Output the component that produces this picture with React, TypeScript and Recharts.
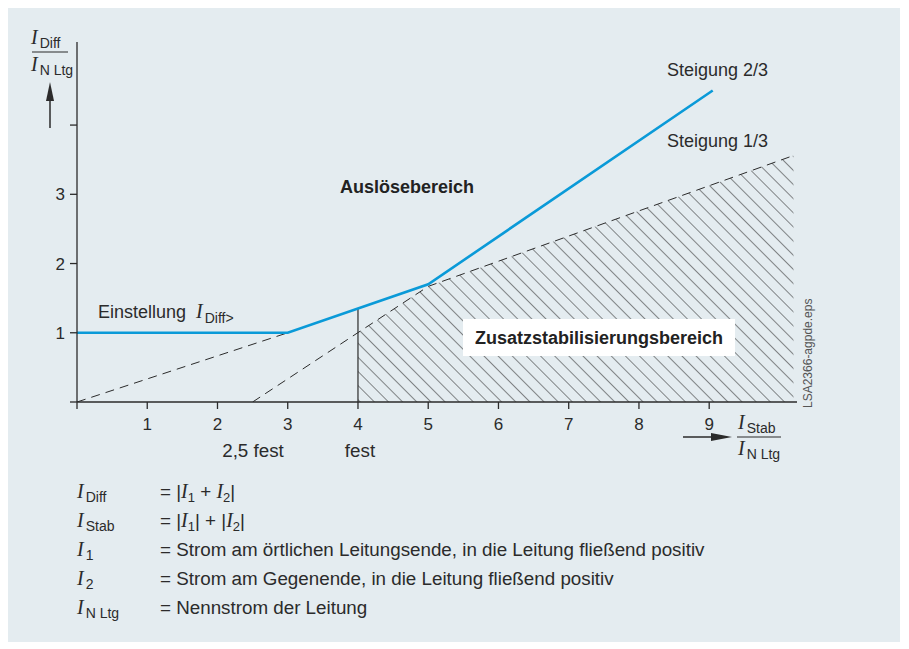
import { ComposedChart, Line, Area, XAxis, YAxis } from 'recharts'

// Auslösekennlinie (I_Stab / I_N Ltg -> I_Diff / I_N Ltg)
const tripX = [0, 3, 5, 9.05]
const tripY = [1, 1, 1.7, 4.5]

// gestrichelte Hilfslinien
const slopeFlatX = [0, 3]
const slopeFlatY = [0, 1]
const boundaryX = [2.5, 5, 10.2]
const boundaryY = [0, 1.67, 3.56]

// Zusatzstabilisierungsbereich
const hatchX = [4, 5, 10.2]
const hatchY = [1, 1.67, 3.56]

// senkrechte Linie bei "fest"
const festX = [4, 4]
const festY = [0, 1.35]

const xTicks = [0, 1, 2, 3, 4, 5, 6, 7, 8, 9]
const xTickLabels = ['', '1', '2', '3', '4', '5', '6', '7', '8', '9']
const yTicks = [0, 1, 2, 3, 4]
const yTickLabels = ['', '1', '2', '3', '']

const legendSubs = ['Diff', 'Stab', '1', '2', 'N Ltg']
const legendTexts = [
  '',
  '',
  '= Strom am örtlichen Leitungsende, in die Leitung fließend positiv',
  '= Strom am Gegenende, in die Leitung fließend positiv',
  '= Nennstrom der Leitung',
]

const zip = (xs: number[], ys: number[]) => xs.map((x, i) => ({ x, y: ys[i] }))

const SANS = '"Liberation Sans", Arial, sans-serif'
const SERIF = '"Liberation Serif", "Times New Roman", serif'
const INK = '#2b2b2b'
const BLUE = '#0a9ad8'
const BG = '#e4ecf0'
const FS = 18
const LFS = 18.8

function Cur({ x, y, sub, size = 20, subSize = 14 }: { x: number; y: number; sub: string; size?: number; subSize?: number }) {
  return (
    <text x={x} y={y} fill={INK}>
      <tspan fontFamily={SERIF} fontStyle="italic" fontSize={size}>I</tspan>
      <tspan fontFamily={SANS} fontSize={subSize} dx={2} dy={4}>{sub}</tspan>
    </text>
  )
}

function Overlay() {
  const rowY = [498, 527, 556, 585, 614]
  return (
    <svg
      width={892}
      height={634}
      viewBox="8 8 892 634"
      style={{ position: 'absolute', left: 0, top: 0, pointerEvents: 'none' }}
    >
      {/* y axis label */}
      <Cur x={31} y={44} sub="Diff" />
      <line x1={32} x2={68} y1={52} y2={52} stroke={INK} strokeWidth={1} />
      <Cur x={31} y={71} sub="N Ltg" />
      <line x1={50} x2={50} y1={128} y2={98} stroke={INK} strokeWidth={1.5} />
      <polygon points="50,82 46,101 54,101" fill={INK} />

      {/* x axis label */}
      <line x1={683} x2={715} y1={437} y2={437} stroke={INK} strokeWidth={1.5} />
      <polygon points="732,437 711,433 711,441" fill={INK} />
      <Cur x={738} y={429} sub="Stab" />
      <line x1={737} x2={781} y1={437} y2={437} stroke={INK} strokeWidth={1} />
      <Cur x={738} y={455} sub="N Ltg" />

      <text x={253} y={457} textAnchor="middle" fontFamily={SANS} fontSize={LFS} fill={INK}>2,5 fest</text>
      <text x={360} y={457} textAnchor="middle" fontFamily={SANS} fontSize={LFS} fill={INK}>fest</text>

      <text x={98} y={318} fontFamily={SANS} fontSize={FS} fill={INK}>Einstellung</text>
      <text x={196} y={318} fill={INK}>
        <tspan fontFamily={SERIF} fontStyle="italic" fontSize={20}>I</tspan>
        <tspan fontFamily={SANS} fontSize={14} dx={2} dy={5}>Diff&gt;</tspan>
      </text>

      <text x={340} y={193} fontFamily={SANS} fontSize={FS} fontWeight="bold" fill="#222">Auslösebereich</text>
      <text x={667} y={76} fontFamily={SANS} fontSize={FS} fill={INK}>Steigung 2/3</text>
      <text x={667} y={147} fontFamily={SANS} fontSize={FS} fill={INK}>Steigung 1/3</text>

      <rect x={463} y={319} width={272} height={37} fill="#ffffff" />
      <text x={599} y={344} textAnchor="middle" fontFamily={SANS} fontSize={FS} fontWeight="bold" fill="#222">
        Zusatzstabilisierungsbereich
      </text>

      <text
        x={812}
        y={408}
        transform="rotate(-90 812 408)"
        fontFamily={SANS}
        fontSize={12}
        fill="#555"
      >
        LSA2366-agpde.eps
      </text>

      {/* legend */}
      {legendSubs.map((s, i) => (
        <Cur key={s} x={77} y={rowY[i]} sub={s} />
      ))}
      <text x={160} y={rowY[0]} fill={INK} fontFamily={SANS} fontSize={LFS}>
        <tspan>= |</tspan>
        <tspan fontFamily={SERIF} fontStyle="italic" fontSize={20}>I</tspan>
        <tspan fontSize={13} dy={4}>1</tspan>
        <tspan dy={-4}> + </tspan>
        <tspan fontFamily={SERIF} fontStyle="italic" fontSize={20}>I</tspan>
        <tspan fontSize={13} dy={4}>2</tspan>
        <tspan dy={-4}>|</tspan>
      </text>
      <text x={160} y={rowY[1]} fill={INK} fontFamily={SANS} fontSize={LFS}>
        <tspan>= |</tspan>
        <tspan fontFamily={SERIF} fontStyle="italic" fontSize={20}>I</tspan>
        <tspan fontSize={13} dy={4}>1</tspan>
        <tspan dy={-4}>| + |</tspan>
        <tspan fontFamily={SERIF} fontStyle="italic" fontSize={20}>I</tspan>
        <tspan fontSize={13} dy={4}>2</tspan>
        <tspan dy={-4}>|</tspan>
      </text>
      {legendTexts.map((t, i) =>
        t ? (
          <text key={i} x={160} y={rowY[i]} fill={INK} fontFamily={SANS} fontSize={LFS}>
            {t}
          </text>
        ) : null
      )}
    </svg>
  )
}

export default function App() {
  return (
    <div style={{ position: 'relative', width: 892, height: 634, background: BG }}>
      <ComposedChart
        width={892}
        height={634}
        margin={{ top: 34, right: 103, bottom: 210, left: 29 }}
      >
        <defs>
          <pattern
            id="hatch"
            patternUnits="userSpaceOnUse"
            width={10}
            height={10}
            patternTransform="rotate(-45)"
          >
            <line x1={0} y1={0} x2={0} y2={10} stroke={INK} strokeWidth={1.1} />
          </pattern>
        </defs>
        <XAxis
          type="number"
          dataKey="x"
          domain={[0, 10.25]}
          ticks={xTicks}
          tickFormatter={(v: number) => xTickLabels[xTicks.indexOf(v)] ?? ''}
          height={30}
          tickSize={7}
          tickMargin={9}
          stroke={INK}
          strokeWidth={1.3}
          tick={{ fill: INK, fontSize: 17, fontFamily: SANS }}
          allowDataOverflow
        />
        <YAxis
          type="number"
          dataKey="y"
          domain={[0, 5.2]}
          ticks={yTicks}
          tickFormatter={(v: number) => yTickLabels[yTicks.indexOf(v)] ?? ''}
          width={40}
          tickSize={7}
          tickMargin={5}
          stroke={INK}
          strokeWidth={1.3}
          tick={{ fill: INK, fontSize: 17, fontFamily: SANS }}
          allowDataOverflow
        />
        <Area
          data={zip(hatchX, hatchY)}
          dataKey="y"
          type="linear"
          stroke="none"
          fill="url(#hatch)"
          fillOpacity={1}
          isAnimationActive={false}
        />
        <Line
          data={zip(slopeFlatX, slopeFlatY)}
          dataKey="y"
          type="linear"
          stroke={INK}
          strokeWidth={1}
          strokeDasharray="9 6"
          dot={false}
          isAnimationActive={false}
        />
        <Line
          data={zip(boundaryX, boundaryY)}
          dataKey="y"
          type="linear"
          stroke={INK}
          strokeWidth={1}
          strokeDasharray="9 6"
          dot={false}
          isAnimationActive={false}
        />
        <Line
          data={zip(festX, festY)}
          dataKey="y"
          type="linear"
          stroke={INK}
          strokeWidth={1.2}
          dot={false}
          isAnimationActive={false}
        />
        <Line
          data={zip(tripX, tripY)}
          dataKey="y"
          type="linear"
          stroke={BLUE}
          strokeWidth={2.6}
          dot={false}
          isAnimationActive={false}
        />
      </ComposedChart>
      <Overlay />
    </div>
  )
}
